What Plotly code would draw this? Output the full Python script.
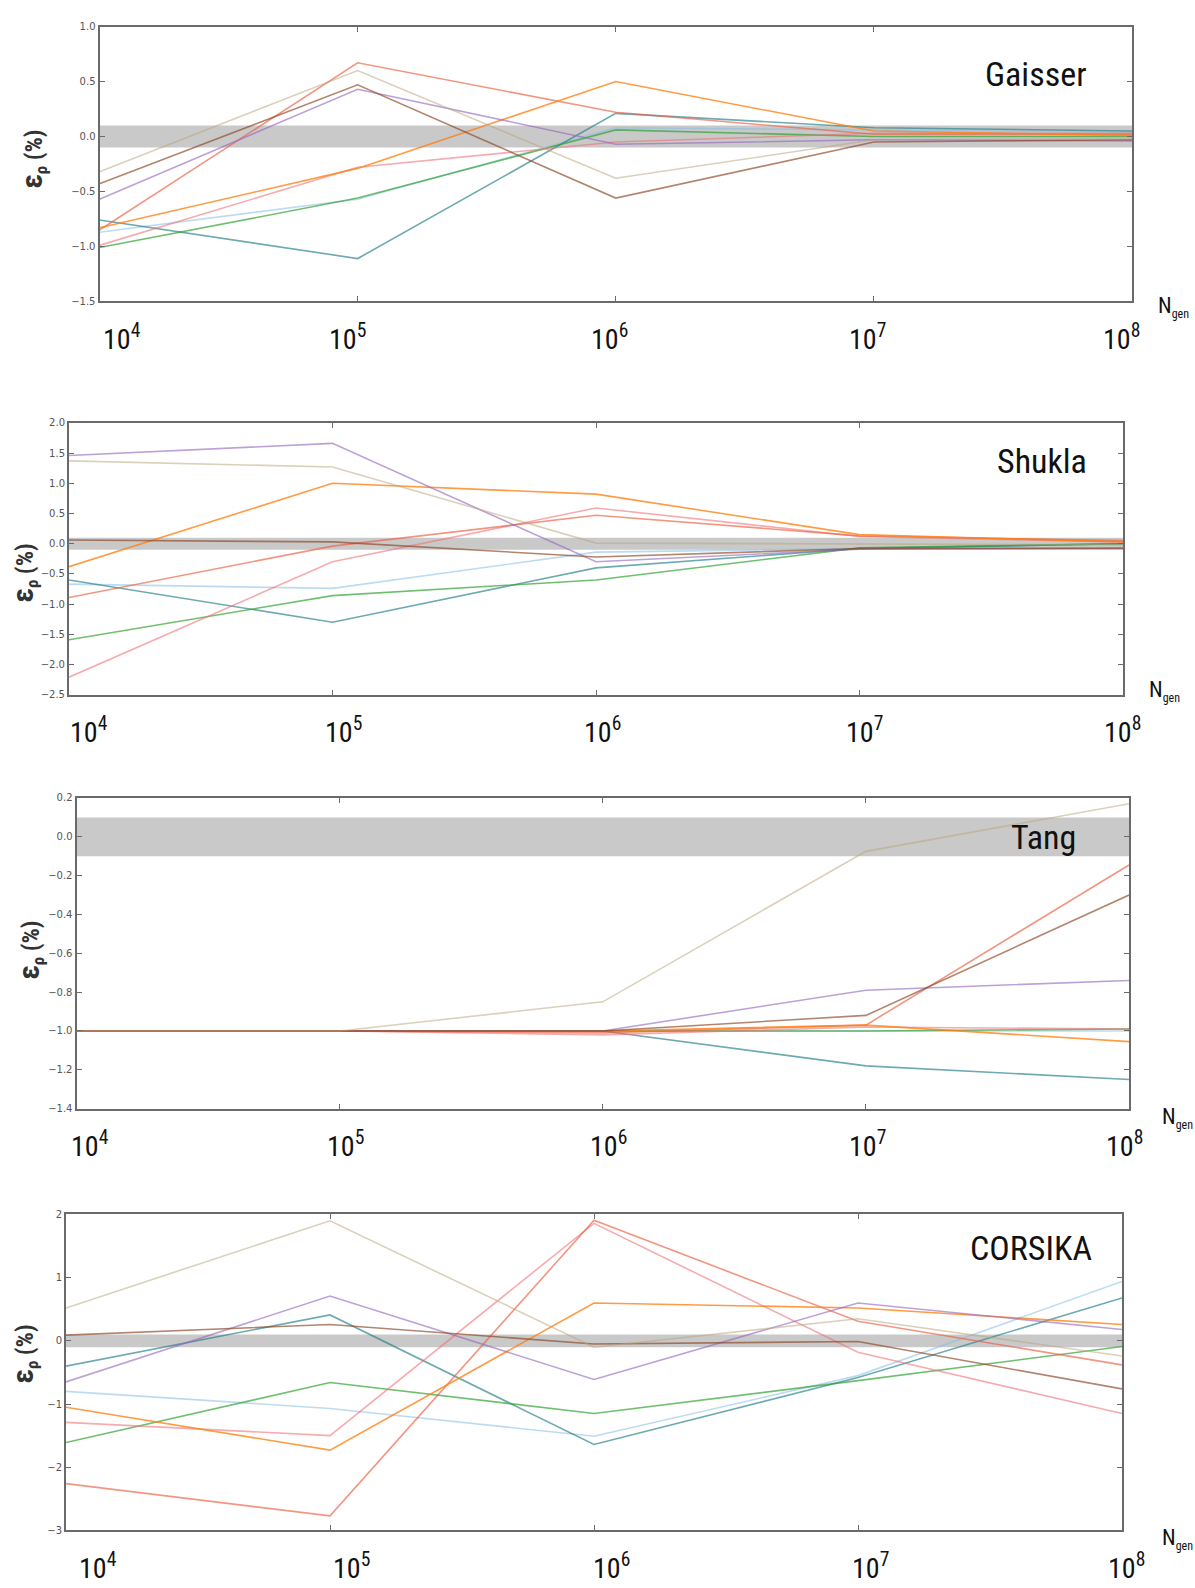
import plotly.graph_objects as go

# ---------------- data ----------------
N_GEN = [1e4, 1e5, 1e6, 1e7, 1e8]
TICK_EXP = [4, 5, 6, 7, 8]
SERIES = ["lightblue", "teal", "green", "pink", "salmon", "orange", "purple", "brown", "tan"]
PANEL_NAMES = ["Gaisser", "Shukla", "Tang", "CORSIKA"]

gaisser = {
    "lightblue": [-0.87, -0.57, 0.08, 0.06, 0.04],
    "teal":      [-0.76, -1.11, 0.21, 0.08, 0.05],
    "green":     [-1.01, -0.56, 0.06, 0.00, 0.00],
    "pink":      [-0.99, -0.28, -0.05, 0.03, 0.03],
    "salmon":    [-0.85, 0.67, 0.22, 0.02, 0.02],
    "orange":    [-0.83, -0.29, 0.50, 0.05, 0.01],
    "purple":    [-0.57, 0.43, -0.07, -0.03, -0.04],
    "brown":     [-0.43, 0.47, -0.56, -0.05, -0.03],
    "tan":       [-0.32, 0.60, -0.38, -0.03, -0.02],
}
shukla = {
    "lightblue": [-0.67, -0.74, -0.14, -0.08, 0.00],
    "teal":      [-0.60, -1.30, -0.40, -0.08, 0.00],
    "green":     [-1.59, -0.86, -0.60, -0.07, 0.00],
    "pink":      [-2.21, -0.30, 0.59, 0.12, 0.03],
    "salmon":    [-0.89, -0.04, 0.47, 0.13, 0.05],
    "orange":    [-0.38, 1.00, 0.82, 0.15, 0.03],
    "purple":    [1.46, 1.66, -0.30, -0.09, -0.07],
    "brown":     [0.06, 0.03, -0.22, -0.08, -0.08],
    "tan":       [1.37, 1.27, 0.01, -0.01, -0.02],
}
tang = {
    "lightblue": [-1.00, -1.00, -1.00, -1.00, -1.00],
    "teal":      [-1.00, -1.00, -1.00, -1.18, -1.25],
    "green":     [-1.00, -1.00, -1.00, -1.00, -0.99],
    "pink":      [-1.00, -1.00, -1.02, -0.98, -0.99],
    "salmon":    [-1.00, -1.00, -1.01, -0.97, -0.145],
    "orange":    [-1.00, -1.00, -1.00, -0.97, -1.055],
    "purple":    [-1.00, -1.00, -1.00, -0.79, -0.74],
    "brown":     [-1.00, -1.00, -1.00, -0.92, -0.30],
    "tan":       [-1.00, -1.00, -0.85, -0.075, 0.17],
}
corsika = {
    "lightblue": [-0.80, -1.07, -1.51, -0.55, 0.94],
    "teal":      [-0.40, 0.41, -1.64, -0.58, 0.68],
    "green":     [-1.61, -0.66, -1.15, -0.63, -0.09],
    "pink":      [-1.29, -1.50, 1.86, -0.18, -1.15],
    "salmon":    [-2.26, -2.77, 1.91, 0.31, -0.38],
    "orange":    [-1.05, -1.73, 0.60, 0.52, 0.26],
    "purple":    [-0.65, 0.71, -0.61, 0.60, 0.18],
    "brown":     [0.09, 0.26, -0.05, -0.01, -0.76],
    "tan":       [0.52, 1.90, -0.10, 0.35, -0.24],
}
PANEL_DATA = [gaisser, shukla, tang, corsika]
Y_RANGES = [[-1.5, 1.0], [-2.5, 2.0], [-1.4, 0.2], [-3, 2]]
Y_DTICK = [0.5, 0.5, 0.2, 1]
Y_FORMAT = [".1f", ".1f", ".1f", "d"]
BAND = [-0.1, 0.1]

# ---------------- styling ----------------
COLORS = {
    "lightblue": "rgba(135,190,228,0.55)",
    "teal":      "rgba(40,130,140,0.68)",
    "green":     "rgba(44,160,44,0.68)",
    "pink":      "rgba(240,110,115,0.58)",
    "salmon":    "rgba(235,95,65,0.66)",
    "orange":    "rgba(255,127,14,0.78)",
    "purple":    "rgba(148,103,189,0.62)",
    "brown":     "rgba(140,70,35,0.66)",
    "tan":       "rgba(185,165,125,0.52)",
}
W, H = 1195, 1588
# plot boxes in pixels: left, right, top, bottom
BOXES = [(99.5, 1132, 20.7, 297.7), (69, 1123, 420, 694),
         (76.5, 1129, 798, 1111), (66, 1122, 1217.7, 1536)]
TITLE_SHIFT = [(-43, -47), (-34, -38), (-51, -39), (-28, -34)]
XLABEL_SHIFT = [[22, -10, -6, -6, -11], [20, 11, 6, 5, -1],
                [13, 6, 6, 2, -5], [32, 21, 17, 12, 4]]
NGEN_SHIFT = [(24, -6), (24, 4), (31, -9), (38, -9)]
YLABEL_POS = [(33, 155), (24, 572), (30, 952), (24, 1359)]

NARROW = "Liberation Sans Narrow, Arial Narrow, Roboto Condensed, Roboto, sans-serif"
AXCOL = "#6a6a6a"

fig = go.Figure()
layout = dict(width=W, height=H, margin=dict(l=0, r=0, t=0, b=0),
              paper_bgcolor="white", plot_bgcolor="white", showlegend=False)
shapes, annotations = [], []

for i, (name, data) in enumerate(zip(PANEL_NAMES, PANEL_DATA)):
    k = "" if i == 0 else str(i + 1)
    xa, ya = "x" + k, "y" + k
    l, r, t, b = BOXES[i]
    for s in SERIES:
        fig.add_trace(go.Scatter(x=N_GEN, y=data[s], mode="lines", xaxis=xa, yaxis=ya,
                                 line=dict(color=COLORS[s], width=1.6), name=s,
                                 hoverinfo="skip"))
    layout["xaxis" + k] = dict(type="log", range=[4, 8], domain=[l / W, r / W], anchor=ya,
                               tickvals=N_GEN, showticklabels=False, ticks="inside",
                               ticklen=5, tickcolor=AXCOL, showline=True, linecolor=AXCOL,
                               linewidth=2, mirror="ticks", showgrid=False, zeroline=False)
    layout["yaxis" + k] = dict(range=Y_RANGES[i], domain=[1 - b / H, 1 - t / H], anchor=xa,
                               dtick=Y_DTICK[i], tick0=0, tickformat=Y_FORMAT[i],
                               ticks="inside", ticklen=5, tickcolor=AXCOL, showline=True,
                               linecolor=AXCOL, linewidth=2, mirror="ticks", showgrid=False,
                               zeroline=False,
                               tickfont=dict(family="DejaVu Sans", size=10, color="#555"))
    shapes.append(dict(type="rect", xref=xa + " domain", yref=ya, x0=0, x1=1,
                       y0=BAND[0], y1=BAND[1], fillcolor="#c9c9c9", line=dict(width=0),
                       layer="below"))
    annotations.append(dict(text=name, xref=xa + " domain", yref=ya + " domain", x=1, y=1,
                            xanchor="right", yanchor="middle", xshift=TITLE_SHIFT[i][0],
                            yshift=TITLE_SHIFT[i][1], showarrow=False,
                            font=dict(family=NARROW, size=34, color="#111")))
    for j, e in enumerate(TICK_EXP):
        annotations.append(dict(text="10<sup>%d</sup>" % e, xref=xa, yref=ya + " domain",
                                x=e, y=0, xanchor="center", yanchor="middle",
                                xshift=XLABEL_SHIFT[i][j], yshift=-36, showarrow=False,
                                font=dict(family=NARROW, size=28, color="#111")))
    annotations.append(dict(text="N<sub><span style='font-size:12px'>gen</span></sub>",
                            xref=xa + " domain", yref=ya + " domain",
                            x=1, y=0, xanchor="left", yanchor="middle",
                            xshift=NGEN_SHIFT[i][0], yshift=NGEN_SHIFT[i][1], showarrow=False,
                            font=dict(family=NARROW, size=22, color="#111")))
    px, py = YLABEL_POS[i]
    annotations.append(dict(text="<b><span style='font-size:30px'>ε</span><sub>ρ</sub> (%)</b>",
                            xref="paper", yref="paper",
                            x=px / W, y=1 - py / H, xanchor="center", yanchor="middle",
                            textangle=-90, showarrow=False,
                            font=dict(family=NARROW, size=24, color="#333")))

layout["shapes"] = shapes
layout["annotations"] = annotations
fig.update_layout(**layout)
fig.write_html("out.html", config={"displayModeBar": False},
               post_script="document.body.style.margin='0';"
                           "document.body.style.overflow='hidden';")
